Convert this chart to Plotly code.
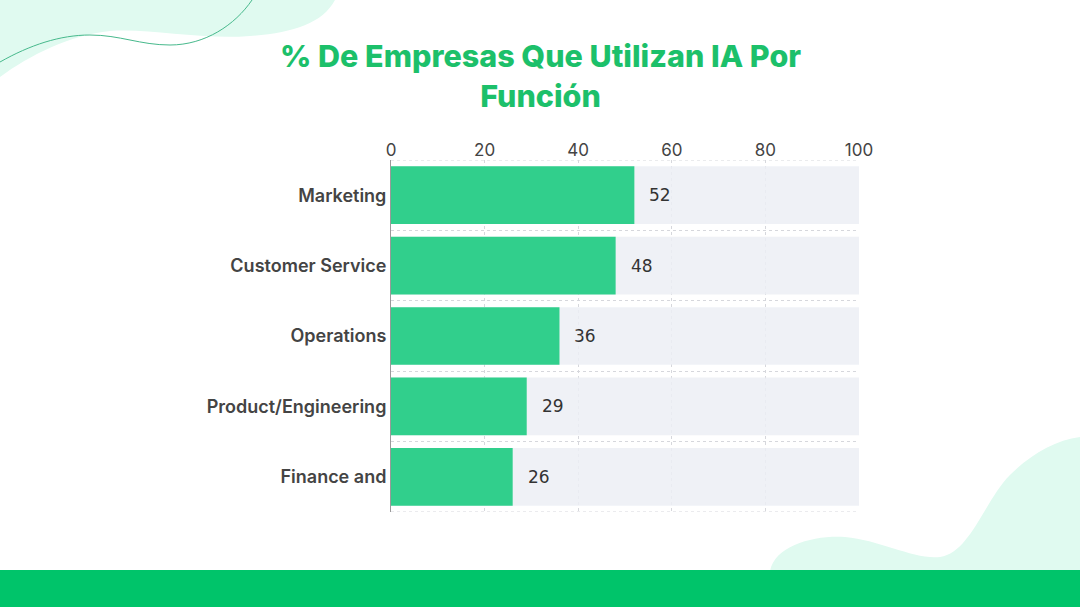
import plotly.graph_objects as go

categories = ["Marketing", "Customer Service", "Operations", "Product/Engineering", "Finance and"]
values = [52, 48, 36, 29, 26]
full_scale = [100, 100, 100, 100, 100]
x_ticks = [0, 20, 40, 60, 80, 100]
title_text = "% De Empresas Que Utilizan IA Por<br>Función"

W, H = 1080, 607
L, R, T, B = 391, 221, 160, 95
PW, PH = W - L - R, H - T - B


def P(x, y):
    return f"{(x - L) / PW:.4f},{(H - B - y) / PH:.4f}"


def path(cmds):
    out = []
    for c in cmds:
        if isinstance(c, str):
            out.append(c)
        else:
            out.append(P(*c))
    return " ".join(out)


pos = list(range(len(categories)))

fig = go.Figure()
fig.add_trace(go.Bar(
    y=pos, x=full_scale, orientation="h", width=0.82,
    marker=dict(color="rgba(236,238,245,0.85)", line=dict(width=0)),
    hoverinfo="skip", showlegend=False,
))
fig.add_trace(go.Bar(
    y=pos, x=values, orientation="h", width=0.82,
    marker=dict(color="#31cf8c", line=dict(width=0)),
    showlegend=False,
))

for i, v in zip(pos, values):
    fig.add_annotation(x=v, y=i, text=str(v), showarrow=False, xanchor="left",
                       xshift=13, font=dict(family="DejaVu Sans", size=17, color="#333333"))

fig.add_annotation(x=(540 - L) / PW, y=(H - B - 75) / PH, xref="paper", yref="paper",
                   text=title_text, showarrow=False, xanchor="center", yanchor="middle",
                   align="center",
                   font=dict(family="Inter", size=30.5, weight=800, color="#1cc06a"))

shapes = [
    dict(type="path", xref="paper", yref="paper", layer="below",
         path=path(["M", (0, 0), "L", (335, 0), "C", (322, 24), (292, 33), (250, 36),
                    "C", (200, 40), (150, 28), (110, 31), "C", (70, 35), (30, 55), (0, 77), "Z"]),
         fillcolor="#e0faf0", line=dict(width=0)),
    dict(type="path", xref="paper", yref="paper", layer="below",
         path=path(["M", (0, 62), "C", (30, 45), (60, 35), (90, 35), "C", (120, 35), (140, 45), (170, 45),
                    "C", (205, 45), (235, 25), (252, 0)]),
         line=dict(color="#47b98c", width=1)),
    dict(type="path", xref="paper", yref="paper", layer="below",
         path=path(["M", (770, 571), "C", (775, 545), (815, 535), (845, 537), "C", (880, 540), (915, 560), (940, 557),
                    "C", (970, 553), (985, 500), (1010, 475), "C", (1030, 455), (1055, 440), (1080, 437),
                    "L", (1080, 571), "Z"]),
         fillcolor="#e0faf0", line=dict(width=0)),
    dict(type="rect", xref="paper", yref="paper", layer="above",
         x0=-L / PW, x1=(W - L) / PW, y0=(H - B - 607) / PH, y1=(H - B - 570) / PH,
         fillcolor="#00c46a", line=dict(width=0)),
]
for yb in [-0.5, len(categories) - 0.5]:
    shapes.append(dict(type="line", xref="paper", yref="y", x0=0, x1=1, y0=yb, y1=yb, layer="below",
                       line=dict(color="#d6d7dc", width=1, dash="dot")))

fig.update_layout(
    width=W, height=H,
    margin=dict(l=L, r=R, t=T, b=B, pad=0),
    paper_bgcolor="white", plot_bgcolor="rgba(0,0,0,0)",
    barmode="overlay",
    shapes=shapes,
    xaxis=dict(side="top", range=[0, 100], tickvals=x_ticks, ticktext=[str(t) for t in x_ticks],
               showgrid=True, gridcolor="#d6d7dc", griddash="dot", gridwidth=1,
               zeroline=False, showline=False, ticks="",
               tickfont=dict(family="Inter", size=17, color="#444444")),
    yaxis=dict(range=[4.5, -0.5], tickvals=pos, ticktext=categories,
               showgrid=False, zeroline=False, showline=True, linecolor="#9a9a9a", linewidth=1,
               ticks="", ticklabelstandoff=0,
               minor=dict(tick0=0.5, dtick=1, showgrid=True, gridcolor="#d6d7dc", griddash="dot", gridwidth=1),
               tickfont=dict(family="Inter", size=18, weight=600, color="#444444")),
)

fig.write_html("out.html", config={"displayModeBar": False},
               post_script="document.body.style.margin='0';document.body.style.padding='0';")
